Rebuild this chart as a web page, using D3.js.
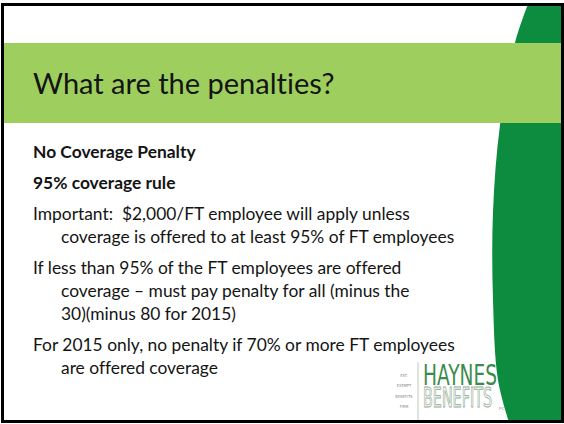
<!DOCTYPE html>
<html>
<head>
<meta charset="utf-8">
<script src="https://cdn.jsdelivr.net/npm/d3@7"></script>
<style>
  html, body { margin: 0; padding: 0; background: #fff; }
  svg { display: block; }
  text { font-variant-ligatures: none; white-space: pre; }
</style>
</head>
<body>
<div id="slide"></div>
<script>
// slide content
const titleText = "What are the penalties?";
const headings = ["No Coverage Penalty", "95% coverage rule"];
const bullets = [
    ["Important:  $2,000/FT employee will apply unless", "coverage is offered to at least 95% of FT employees"],
    ["If less than 95% of the FT employees are offered", "coverage \u2013 must pay penalty for all (minus the", "30)(minus 80 for 2015)"],
    ["For 2015 only, no penalty if 70% or more FT employees", "are offered coverage"]
];
const logoTagline = ["EST.", "EXEMPT", "BENEFITS", "FIRM"];
const logoWords = ["HAYNES", "BENEFITS"];

const width = 564, height = 424;
const bodyFont = "Lato, 'Open Sans', sans-serif";
const logoFont = "'Liberation Sans Narrow', 'DejaVu Sans Condensed', sans-serif";

const svg = d3.select("#slide")
    .append("svg")
    .attr("width", width)
    .attr("height", height);

svg.append("rect")
    .attr("width", width)
    .attr("height", height)
    .attr("fill", "#fff");

// dark green swoosh on the right
const edge = [[528, 4], [515, 43], [500, 125], [493, 212], [493, 300], [498, 380], [509, 422]];
const swoosh = d3.line().curve(d3.curveCatmullRom)(edge) + "L562,422L562,4Z";
svg.append("path")
    .attr("d", swoosh)
    .attr("fill", "#0d8c3f");

// title band
svg.append("rect")
    .attr("x", 4)
    .attr("y", 43)
    .attr("width", 558)
    .attr("height", 80)
    .attr("fill", "#9ecf5e");

svg.append("text")
    .attr("x", 33)
    .attr("y", 94)
    .style("font-family", bodyFont)
    .style("font-size", "29px")
    .attr("fill", "#141414")
    .text(titleText);

// flatten paragraphs into lines
const paragraphs = headings.map(h => [h]).concat(bullets);
const lines = [];
paragraphs.forEach((para, p) => {
    para.forEach((t, i) => {
        lines.push({ text: t, para: p, first: i === 0, bold: p < headings.length, n: lines.length });
    });
});

const lineY = d => 158 + d.n * 23 + d.para * 8;

svg.selectAll(".line")
    .data(lines)
    .enter().append("text")
    .attr("class", "line")
    .attr("x", d => d.first ? 33 : 61)
    .attr("y", lineY)
    .style("font-family", bodyFont)
    .style("font-size", "17.4px")
    .style("font-weight", d => d.bold ? "bold" : "normal")
    .attr("fill", "#141414")
    .text(d => d.text);

// logo
const logo = svg.append("g");
logo.append("line")
    .attr("x1", 418).attr("x2", 418)
    .attr("y1", 362).attr("y2", 420)
    .attr("stroke", "#a8bca8")
    .attr("stroke-width", 0.8);

logo.selectAll(".tag")
    .data(logoTagline)
    .enter().append("text")
    .attr("class", "tag")
    .attr("x", 404)
    .attr("y", (d, i) => 377 + i * 10.3)
    .attr("text-anchor", "middle")
    .style("font-family", logoFont)
    .style("font-size", "4px")
    .attr("fill", "#8a8a8a")
    .text(d => d);

logo.append("text")
    .attr("x", 423)
    .attr("y", 385)
    .attr("textLength", 74)
    .attr("lengthAdjust", "spacingAndGlyphs")
    .style("font-family", logoFont)
    .style("font-size", "28px")
    .attr("fill", "#3b8c4c")
    .text(logoWords[0]);

logo.append("text")
    .attr("x", 423)
    .attr("y", 407)
    .attr("textLength", 69)
    .attr("lengthAdjust", "spacingAndGlyphs")
    .style("font-family", logoFont)
    .style("font-size", "26px")
    .attr("fill", "#fff")
    .attr("stroke", "#93ad96")
    .attr("stroke-width", 0.9)
    .text(logoWords[1]);

logo.append("text")
    .attr("x", 499)
    .attr("y", 410)
    .style("font-family", "sans-serif")
    .style("font-size", "4px")
    .attr("fill", "#8a8a8a")
    .text("PC");

// slide border
svg.append("rect")
    .attr("x", 2.5)
    .attr("y", 4.5)
    .attr("width", 560)
    .attr("height", 417)
    .attr("fill", "none")
    .attr("stroke", "#000")
    .attr("stroke-width", 3);
</script>
</body>
</html>
